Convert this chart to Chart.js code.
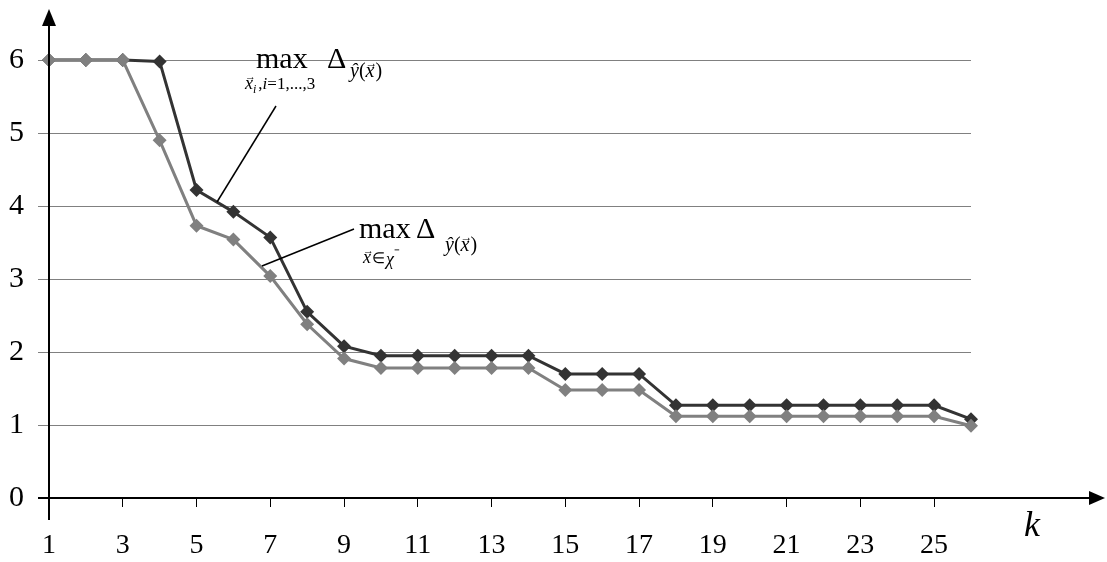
<!DOCTYPE html>
<html><head><meta charset="utf-8">
<script src="https://cdn.jsdelivr.net/npm/chart.js@4/dist/chart.umd.min.js"></script>
<style>html,body{margin:0;padding:0;background:#fff;}#wrap{width:1107px;height:562px;}</style>
</head><body><div id="wrap"><canvas id="c" width="1107" height="562"></canvas></div>
<script>
// ---- data ----
const kValues = [1,2,3,4,5,6,7,8,9,10,11,12,13,14,15,16,17,18,19,20,21,22,23,24,25,26];
const maxOverXi = [6,6,6,5.98,4.22,3.92,3.57,2.55,2.08,1.95,1.95,1.95,1.95,1.95,1.70,1.70,1.70,1.27,1.27,1.27,1.27,1.27,1.27,1.27,1.27,1.08];
const maxOverChi = [6,6,6,4.9,3.73,3.54,3.04,2.38,1.91,1.78,1.78,1.78,1.78,1.78,1.48,1.48,1.48,1.12,1.12,1.12,1.12,1.12,1.12,1.12,1.12,0.99];
const xTickLabels = [1,3,5,7,9,11,13,15,17,19,21,23,25];
const yTickLabels = [0,1,2,3,4,5,6];

const SERIF = "'Liberation Serif', 'Times New Roman', serif";

function txt(ctx, s, x, y, size, italic) {
  ctx.font = (italic ? 'italic ' : '') + size + 'px ' + SERIF;
  ctx.fillText(s, x, y);
  return ctx.measureText(s).width;
}
// italic x with a small arrow above it (vector)
function vecx(ctx, x, y, size) {
  const w = txt(ctx, 'x', x, y, size, true);
  ctx.save();
  ctx.font = Math.round(size * 0.6) + 'px ' + SERIF;
  const aw = ctx.measureText('→').width;
  ctx.fillText('→', x + w / 2 - aw / 2 + size * 0.08, y - size * 0.5);
  ctx.restore();
  return w;
}

const decor = {
  id: 'decor',
  afterDatasetsDraw(chart) {
    const ctx = chart.ctx;
    const xs = chart.scales.x, ys = chart.scales.y;
    const x0 = xs.getPixelForValue(1);
    const y0 = ys.getPixelForValue(0);
    ctx.save();
    ctx.strokeStyle = '#000'; ctx.fillStyle = '#000';
    ctx.lineWidth = 2;
    // x axis
    ctx.beginPath(); ctx.moveTo(x0 - 11, y0); ctx.lineTo(chart.width - 16, y0); ctx.stroke();
    ctx.beginPath(); ctx.moveTo(chart.width - 2, y0); ctx.lineTo(chart.width - 18, y0 - 7); ctx.lineTo(chart.width - 18, y0 + 7); ctx.closePath(); ctx.fill();
    // y axis
    ctx.beginPath(); ctx.moveTo(x0, y0 + 22); ctx.lineTo(x0, 24); ctx.stroke();
    ctx.beginPath(); ctx.moveTo(x0, 9); ctx.lineTo(x0 - 7, 26); ctx.lineTo(x0 + 7, 26); ctx.closePath(); ctx.fill();
    // k label
    ctx.textBaseline = 'alphabetic'; ctx.textAlign = 'left';
    txt(ctx, 'k', 1024, 536, 36, true);
    // leader lines
    ctx.lineWidth = 1.5;
    ctx.beginPath(); ctx.moveTo(276, 106); ctx.lineTo(217, 202); ctx.stroke();
    ctx.beginPath(); ctx.moveTo(354, 229); ctx.lineTo(262, 266); ctx.stroke();
    // label 1
    txt(ctx, 'max', 256, 68, 30, false);
    txt(ctx, 'Δ', 327, 68, 30, false);
    let p = 350;
    p += txt(ctx, 'ŷ', p, 77, 20, true);
    p += txt(ctx, '(', p, 77, 20, false);
    p += vecx(ctx, p, 77, 20);
    txt(ctx, ')', p + 1, 77, 20, false);
    p = 245;
    p += vecx(ctx, p, 89, 18);
    p += txt(ctx, 'i', p, 93, 12, true) + 2;
    p += txt(ctx, ',', p, 89, 17, false);
    p += txt(ctx, 'i', p, 89, 17, true);
    txt(ctx, '=1,...,3', p, 89, 17, false);
    // label 2
    txt(ctx, 'max', 359, 238, 30, false);
    txt(ctx, 'Δ', 416, 238, 30, false);
    p = 445;
    p += txt(ctx, 'ŷ', p, 251, 20, true);
    p += txt(ctx, '(', p, 251, 20, false);
    p += vecx(ctx, p, 251, 20);
    txt(ctx, ')', p + 1, 251, 20, false);
    p = 363;
    p += vecx(ctx, p, 263, 18) + 1;
    p += txt(ctx, '∈', p, 263, 15, false) + 1;
    p += txt(ctx, 'χ', p, 265, 18, true);
    txt(ctx, '⁻', p, 260, 17, false);
    ctx.restore();
  }
};

const ds = (data, color) => ({
  data: kValues.map((k, i) => ({ x: k, y: data[i] })),
  borderColor: color, backgroundColor: color,
  borderWidth: 3, tension: 0,
  pointStyle: 'rectRot', pointRadius: 7, pointBorderWidth: 0, pointHoverRadius: 7,
  clip: false
});

new Chart(document.getElementById('c'), {
  type: 'line',
  data: { datasets: [ ds(maxOverChi, '#808080'), ds(maxOverXi, '#333333') ] },
  options: {
    responsive: false, animation: false, devicePixelRatio: 1,
    layout: { padding: { left: 0, right: 136, top: 60, bottom: 0 } },
    plugins: { legend: { display: false }, tooltip: { enabled: false } },
    scales: {
      x: {
        type: 'linear', min: 1, max: 26,
        border: { display: false },
        grid: { drawOnChartArea: false, drawTicks: true, tickLength: 9, color: '#000', lineWidth: 1 },
        afterBuildTicks: s => { s.ticks = xTickLabels.map(v => ({ value: v })); },
        afterFit: s => { s.height = 64; },
        ticks: { font: { family: SERIF, size: 28 }, color: '#000', padding: 22, maxRotation: 0, autoSkip: false }
      },
      y: {
        min: 0, max: 6,
        border: { display: false },
        grid: { color: '#808080', lineWidth: 1, drawTicks: true, tickLength: 11 },
        afterBuildTicks: s => { s.ticks = yTickLabels.map(v => ({ value: v })); },
        afterFit: s => { s.width = 49; },
        ticks: { font: { family: SERIF, size: 30 }, color: '#000', padding: 14 }
      }
    }
  },
  plugins: [decor]
});
</script></body></html>
